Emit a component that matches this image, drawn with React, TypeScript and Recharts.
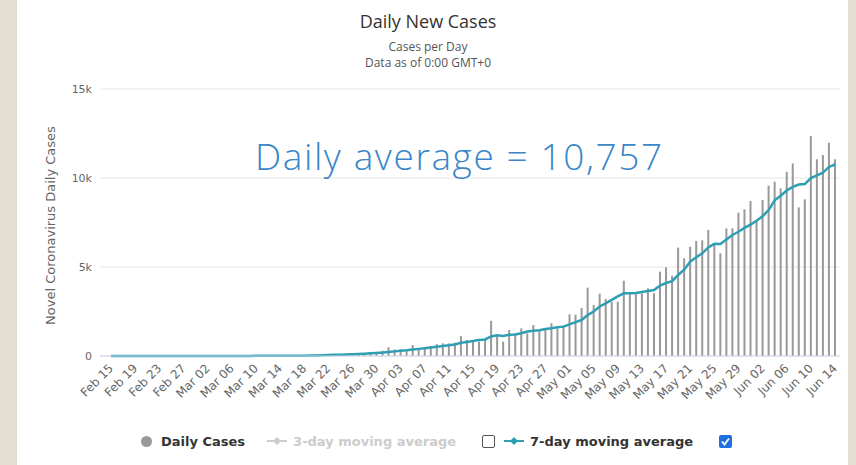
import { Bar, CartesianGrid, ComposedChart, Line, XAxis, YAxis } from 'recharts'

const MONTH_SPANS: Array<[string, number, number]> = [
  ['Feb', 15, 29],
  ['Mar', 1, 31],
  ['Apr', 1, 30],
  ['May', 1, 31],
  ['Jun', 1, 14],
]

// one label per day, Feb 15 .. Jun 14
const DATES = MONTH_SPANS.flatMap(([month, from, to]) =>
  Array.from({ length: to - from + 1 }, (_, k) => `${month} ${String(from + k).padStart(2, '0')}`),
)

const DAILY_CASES = [
  // Feb 15-29
  0, 0, 0, 0, 0, 0, 0, 0, 0, 0, 0, 0, 0, 0, 0,
  // Mar
  0, 1, 1, 22, 2, 1, 3, 5, 9, 15, 8, 12, 11, 3, 30, 18, 25, 40, 60, 80,
  90, 75, 85, 95, 110, 140, 120, 160, 190, 230, 300,
  // Apr
  490, 370, 380, 340, 620, 430, 440, 560, 670, 710, 710, 750, 1120, 900, 840,
  800, 950, 1970, 1180, 800, 1460, 1270, 1550, 1270, 1740, 1460, 1460, 1840, 1550, 1700,
  // May
  2340, 2320, 2700, 3840, 2870, 3500, 3200, 3050, 3050, 4230, 3480, 3520, 3520, 3800, 3520, 4740,
  4980, 4510, 6090, 5490, 6140, 6460, 6500, 7080, 6240, 5770, 7170, 7170, 8050, 8240, 8710,
  // Jun 1-14
  7640, 8760, 9570, 9790, 9420, 10350, 10820, 8350, 8800, 12360, 11050, 11290, 11980, 11050,
]

const AVG_7DAY = [
  // Feb 15-29
  0, 0, 0, 0, 0, 0, 0, 0, 0, 0, 0, 0, 0, 0, 0,
  // Mar
  0, 0, 0, 3, 4, 4, 4, 5, 6, 8, 8, 9, 10, 10, 13, 14,
  17, 20, 28, 35, 44, 55, 64, 75, 85, 95, 110, 130, 150, 170, 195,
  // Apr
  230, 260, 290, 320, 370, 400, 440, 480, 520, 560, 600, 650, 740, 790, 840,
  900, 930, 1100, 1170, 1130, 1190, 1210, 1280, 1380, 1420, 1450, 1520, 1560, 1610, 1650,
  // May
  1780, 1900, 2020, 2300, 2500, 2780, 2960, 3150, 3350, 3520, 3520, 3540, 3600, 3650, 3710, 3950,
  4100, 4200, 4550, 4850, 5300, 5550, 5770, 6100, 6300, 6290, 6550, 6800, 6980, 7200, 7380,
  // Jun 1-14
  7600, 7850, 8200, 8750, 9000, 9300, 9500, 9630, 9660, 10000, 10150, 10300, 10620, 10757,
]

const Y_TICKS = [0, 5000, 10000, 15000]
const Y_TICK_LABELS = ['0', '5k', '10k', '15k']

const FONT = "'Open Sans', 'Noto Sans', sans-serif"
const AXIS_FONT = "'DejaVu Sans', sans-serif"
const TEAL = '#2e9fb3'

const data = DATES.map((date, i) => ({ date, daily: DAILY_CASES[i], avg7: AVG_7DAY[i] }))

function DateTick({ x, y, payload }: any) {
  const ax = x + 3
  const ay = y + 5
  return (
    <text
      x={ax}
      y={ay}
      transform={`rotate(-45 ${ax} ${ay})`}
      textAnchor="end"
      fontSize={12}
      fontFamily={AXIS_FONT}
      fill="#666"
    >
      {payload.value}
    </text>
  )
}

function Diamond({ color }: { color: string }) {
  return (
    <svg width={20} height={10} style={{ marginRight: 6 }}>
      <line x1={0} y1={5} x2={20} y2={5} stroke={color} strokeWidth={2} />
      <path d="M10 1 L14 5 L10 9 L6 5 Z" fill={color} />
    </svg>
  )
}

export default function App() {
  return (
    <div style={{ position: 'absolute', left: 0, top: 0, width: 856, height: 465, background: '#e4ddd2', fontFamily: FONT }}>
      <div style={{ position: 'absolute', left: 17, top: 0, width: 831, height: 465, background: '#fff' }} />

      <ComposedChart
        width={856}
        height={465}
        data={data}
        margin={{ top: 89, right: 16, bottom: 49, left: 40 }}
        style={{ position: 'absolute', left: 0, top: 0 }}
      >
        <CartesianGrid vertical={false} stroke="#e6e6e6" />
        <XAxis
          dataKey="date"
          interval={3}
          height={60}
          padding={{ left: 8, right: 2 }}
          tick={<DateTick />}
          tickLine={false}
          axisLine={{ stroke: '#ccd6eb' }}
        />
        <YAxis
          width={60}
          domain={[0, 15000]}
          ticks={Y_TICKS}
          tickFormatter={(v) => Y_TICK_LABELS[Y_TICKS.indexOf(v)]}
          axisLine={false}
          tickLine={false}
          tick={{ fill: '#666', fontSize: 11, fontFamily: AXIS_FONT }}
        />
        <Bar dataKey="daily" fill="#999" barSize={2} isAnimationActive={false} />
        <Line
          dataKey="avg7"
          type="linear"
          stroke={TEAL}
          strokeWidth={2.5}
          dot={false}
          isAnimationActive={false}
        />
      </ComposedChart>

      <div style={{ position: 'absolute', left: 0, width: 856, top: 9, textAlign: 'center', fontSize: 18, color: '#333' }}>
        Daily New Cases
      </div>
      <div style={{ position: 'absolute', left: 0, width: 856, top: 39, textAlign: 'center', fontSize: 12, color: '#555', lineHeight: '16px' }}>
        Cases per Day
        <br />
        Data as of 0:00 GMT+0
      </div>

      <div
        style={{
          position: 'absolute',
          left: 50 - 150,
          top: 218,
          width: 300,
          textAlign: 'center',
          fontSize: 13,
          fontFamily: AXIS_FONT,
          color: '#666',
          transform: 'rotate(-90deg)',
        }}
      >
        Novel Coronavirus Daily Cases
      </div>

      <div
        style={{
          position: 'absolute',
          left: 255,
          top: 130,
          fontSize: 37,
          fontWeight: 300,
          letterSpacing: 1.6,
          color: '#3a86c8',
          whiteSpace: 'nowrap',
        }}
      >
        Daily average = 10,757
      </div>

      <div
        style={{
          position: 'absolute',
          top: 432,
          left: 141,
          height: 18,
          display: 'flex',
          alignItems: 'center',
          fontSize: 13,
          fontFamily: AXIS_FONT,
          fontWeight: 700,
          color: '#333',
          whiteSpace: 'nowrap',
        }}
      >
        <span style={{ width: 11, height: 11, borderRadius: '50%', background: '#999', marginRight: 9 }} />
        <span style={{ marginRight: 22 }}>Daily Cases</span>
        <Diamond color="#ccc" />
        <span style={{ color: '#ccc', marginRight: 26 }}>3-day moving average</span>
        <span style={{ width: 11, height: 11, border: '1px solid #555', borderRadius: 2, marginRight: 9 }} />
        <Diamond color={TEAL} />
        <span style={{ marginRight: 26 }}>7-day moving average</span>
        <svg width={13} height={13}>
          <rect x={0} y={0} width={13} height={13} rx={2} fill="#1f6fe0" />
          <path d="M3 6.5 L5.5 9.5 L10 3.5" stroke="#fff" strokeWidth={1.8} fill="none" />
        </svg>
      </div>
    </div>
  )
}
